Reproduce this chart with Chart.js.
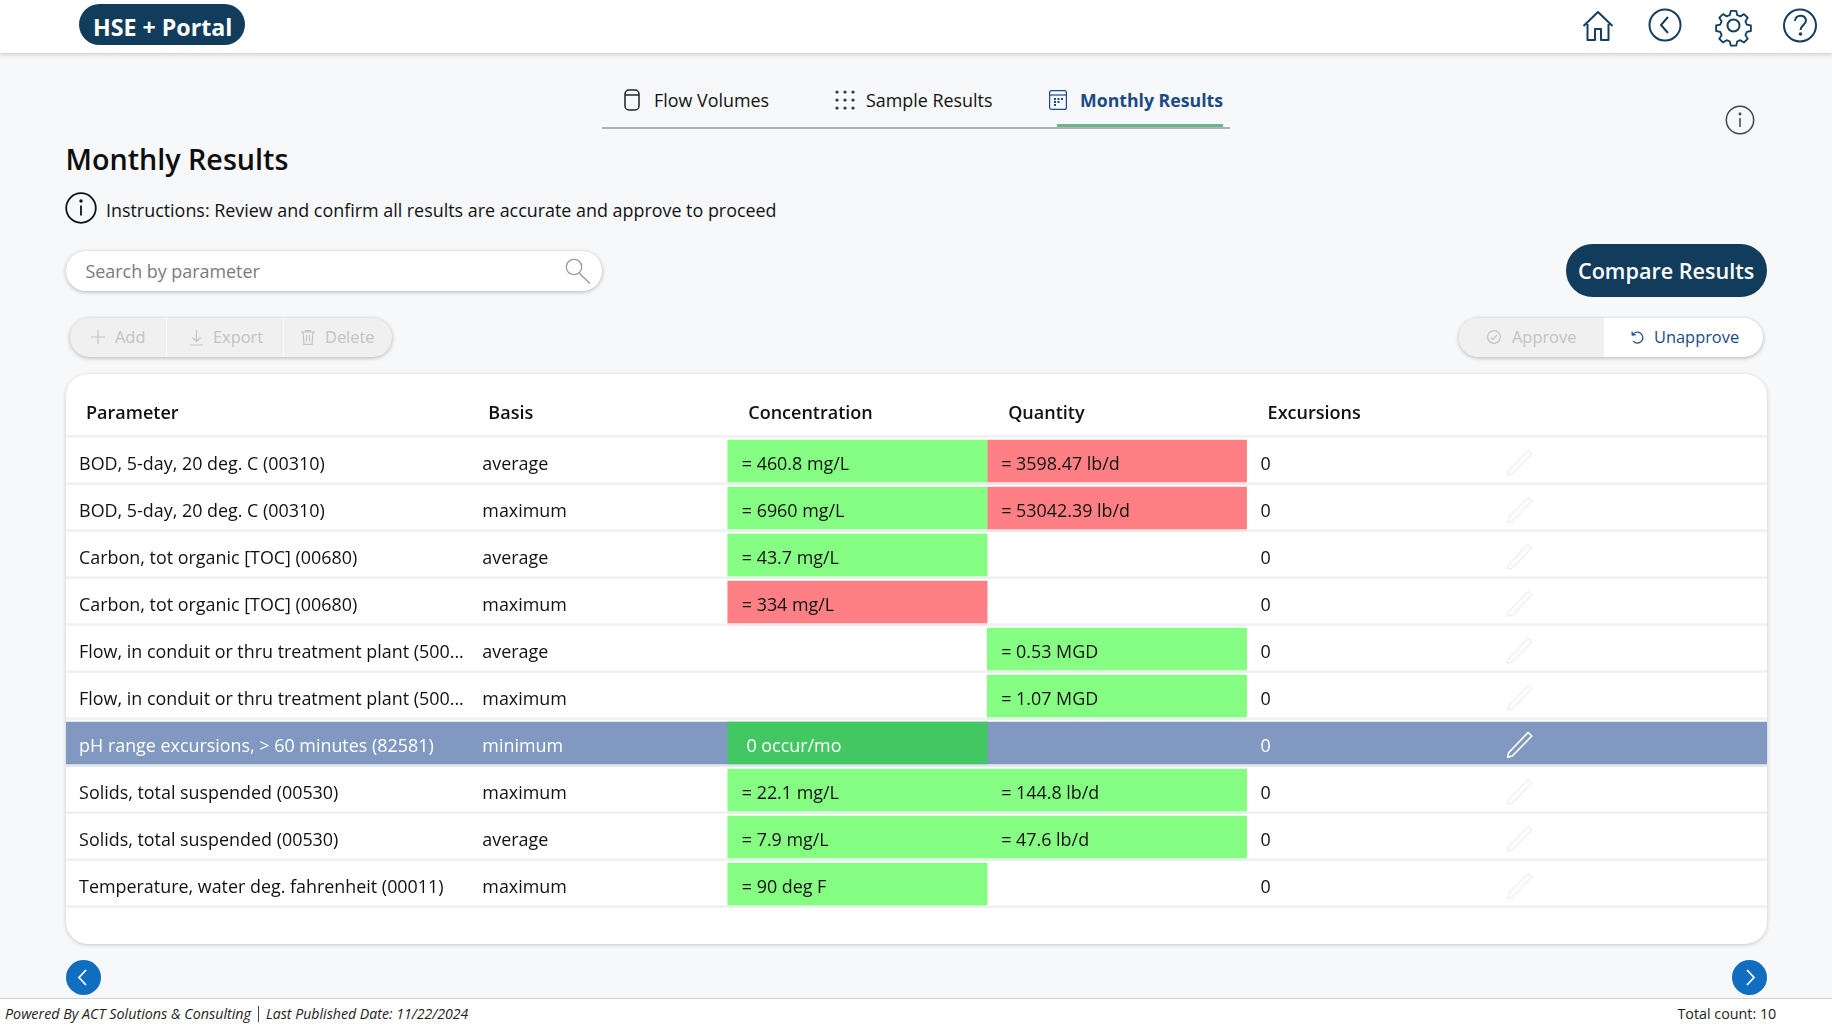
<!DOCTYPE html>
<html><head><meta charset="utf-8"><title>Monthly Results</title>
<script src="https://cdn.jsdelivr.net/npm/chart.js@4"></script>
<style>
html,body{margin:0;padding:0;width:1832px;height:1029px;overflow:hidden;background:#f7f8fa;font-family:"Open Sans",sans-serif;color:#111}
.a{position:absolute;white-space:nowrap}
.t{position:absolute;white-space:nowrap;font-size:17.9px;line-height:30px;height:30px}
.s{font-size:16.4px}
svg{position:absolute;overflow:visible}
#top{position:absolute;left:0;top:0;width:1832px;height:53px;background:#fff;box-shadow:0 1px 5px rgba(0,0,0,.22)}
#foot{position:absolute;left:0;top:998px;width:1832px;height:31px;background:#fff;border-top:1px solid #cfd0d2;box-sizing:border-box}
#card{position:absolute;left:66px;top:374px;width:1701px;height:570px;background:#fff;border-radius:22px;box-shadow:0 1px 4px rgba(0,0,0,.2)}
#tbl{position:absolute;left:66px;top:374px;width:1701px;height:570px}
.pill{position:absolute;border-radius:20px;box-shadow:0 1px 4px rgba(0,0,0,.28)}
.g{color:#c3c3c3}
</style></head><body>
<div id="top"></div>
<div class="a" style="left:79px;top:4px;width:166px;height:41px;border-radius:21px;background:#123c5b"></div>
<div class="t" style="left:93px;top:12px;font-size:23.2px;font-weight:700;color:#fff">HSE + Portal</div>

<svg style="left:1582px;top:10px" width="32" height="32" viewBox="0 0 32 32" fill="none" stroke="#143f60" stroke-width="2"><path d="M1.500 16 16 2l14.500 14M5.500 14v16h7.500V19h6v11h7.500V14" stroke-linejoin="round"/></svg>
<svg style="left:1649px;top:9px" width="32" height="32" viewBox="0 0 32 32" fill="none" stroke="#143f60" stroke-width="2"><circle cx="16" cy="16" r="15.500"/><path d="M19 8l-7 8 7 8"/></svg>
<svg style="left:1716px;top:8px" width="35" height="35" viewBox="0 0 35 35" fill="none" stroke="#143f60" stroke-width="2"><circle cx="17.500" cy="17.500" r="6"/><path d="M14.500 1.500h6l1 4.500 3.500 1.500 4-2.500 4 4-2.500 4 1.500 3.500 4.500 1v6l-4.500 1-1.500 3.500 2.500 4-4 4-4-2.500-3.500 1.500-1 4.500h-6l-1-4.500-3.500-1.500-4 2.500-4-4 2.500-4-1.500-3.500-4.500-1v-6l4.500-1 1.500-3.500-2.500-4 4-4 4 2.500 3.500-1.500z" transform="translate(1.500 1.500) scale(.915)" stroke-linejoin="round"/></svg>
<svg style="left:1783px;top:8px" width="34" height="35" viewBox="0 0 34 35" fill="none" stroke="#143f60" stroke-width="2"><circle cx="17" cy="17.500" r="16"/><path d="M12 13c0-7 11-7 11-.5 0 4-5.500 5-5.500 9.500"/><circle cx="17.500" cy="26" r=".8" fill="#143f60"/></svg>

<div class="a" style="left:602px;top:126.500px;width:628px;height:2px;background:#b0b1b3"></div>
<div class="a" style="left:1057px;top:124px;width:166px;height:3px;background:#6cb58a"></div>
<svg style="left:623px;top:89px" width="18" height="22" viewBox="0 0 18 22" fill="none" stroke="#222" stroke-width="1.500"><rect x="2" y="1" width="14" height="20" rx="4"/><path d="M2 6h14"/></svg>
<div class="t" style="left:654px;top:85px">Flow Volumes</div>
<svg style="left:834px;top:90px" width="22" height="20" viewBox="0 0 22 20" fill="#333" stroke="none"><circle cx="3" cy="2" r="1.600"/><circle cx="11" cy="2" r="1.600"/><circle cx="19" cy="2" r="1.600"/><circle cx="3" cy="10" r="1.600"/><circle cx="11" cy="10" r="1.600"/><circle cx="19" cy="10" r="1.600"/><circle cx="3" cy="18" r="1.600"/><circle cx="11" cy="18" r="1.600"/><circle cx="19" cy="18" r="1.600"/></svg>
<div class="t" style="left:866px;top:85px">Sample Results</div>
<svg style="left:1049px;top:90px" width="18" height="20" viewBox="0 0 18 20" fill="none" stroke="#1b4a85" stroke-width="1.200"><rect x=".6" y=".6" width="16.800" height="18.800" rx="2"/><path d="M.6 5h16.800"/><path d="M5 9h2M8.500 9h2M12 9h2M5 12h2M8.500 12h2M5 15h2" stroke-width="1.800"/></svg>
<div class="t" style="left:1080px;top:85px;font-size:17.7px;font-weight:700;color:#1b4a85">Monthly Results</div>
<svg style="left:1725px;top:105px" width="30" height="30" viewBox="0 0 30 30" fill="none" stroke="#444" stroke-width="1.500"><circle cx="15" cy="15" r="13.700"/><path d="M15 13v9" /><circle cx="15" cy="9" r=".7"/></svg>

<div class="t" style="left:65.500px;top:144px;font-size:28.7px;font-weight:600;color:#0e0e0e">Monthly Results</div>
<svg style="left:65px;top:192px" width="32" height="32" viewBox="0 0 32 32" fill="none" stroke="#111" stroke-width="1.800"><circle cx="16" cy="16" r="14.800"/><path d="M16 13.500v10"/><circle cx="16" cy="9" r=".8"/></svg>
<div class="t" style="left:106px;top:195px">Instructions: Review and confirm all results are accurate and approve to proceed</div>

<div class="pill" style="left:66px;top:251px;width:536px;height:40px;background:#fff"></div>
<div class="t" style="left:85.500px;top:256px;color:#7b7b7b">Search by parameter</div>
<svg style="left:565px;top:258px" width="27" height="26" viewBox="0 0 27 26" fill="none" stroke="#9a9a9a" stroke-width="1.300"><circle cx="9" cy="9" r="7.700"/><path d="M14 15l11 10.500"/></svg>

<div class="pill" style="left:70px;top:318px;width:322px;height:39px;background:#f0f0f0"></div>
<div class="a" style="left:166px;top:318px;width:1px;height:39px;background:#fafafa"></div>
<div class="a" style="left:283px;top:318px;width:1px;height:39px;background:#fafafa"></div>
<svg style="left:91px;top:330px" width="14" height="14" viewBox="0 0 14 14" fill="none" stroke="#c3c3c3" stroke-width="1.200"><path d="M7 0v14M0 7h14"/></svg>
<div class="t g s" style="left:115px;top:322px">Add</div>
<svg style="left:190px;top:330px" width="13" height="16" viewBox="0 0 13 16" fill="none" stroke="#c3c3c3" stroke-width="1.200"><path d="M6.500 0v11M2.500 7.500l4 4 4-4M0 15h13"/></svg>
<div class="t g s" style="left:213px;top:322px">Export</div>
<svg style="left:301px;top:330px" width="14" height="15" viewBox="0 0 14 15" fill="none" stroke="#c3c3c3" stroke-width="1.200"><path d="M0 2h14M4.500 2V.6h5V2M2 2l1 12.400h8L12 2M5.500 5v6.500M8.500 5v6.500"/></svg>
<div class="t g s" style="left:325px;top:322px">Delete</div>

<div class="a" style="left:1565.500px;top:244px;width:201px;height:53px;border-radius:27px;background:#123c5b"></div>
<div class="t" style="left:1578px;top:256px;font-size:21.6px;font-weight:600;color:#fff">Compare Results</div>

<div class="pill" style="left:1459px;top:318px;width:304px;height:39px;background:#fff"></div>
<div class="a" style="left:1459px;top:318px;width:145px;height:39px;background:#f0f0f0;border-radius:20px 0 0 20px"></div>
<svg style="left:1487px;top:330px" width="14" height="14" viewBox="0 0 14 14" fill="none" stroke="#c3c3c3" stroke-width="1.200"><circle cx="7" cy="7" r="6.400"/><path d="M4 7.500l2 2 4-4.500"/></svg>
<div class="t g s" style="left:1512px;top:322px">Approve</div>
<svg style="left:1630px;top:330px" width="14" height="14" viewBox="0 0 14 14" fill="none" stroke="#1b4a85" stroke-width="1.200"><path d="M2 1.500l.3 3.500 3.500-.3M2.500 5A5.500 5.500 0 1 1 3 11"/></svg>
<div class="t s" style="left:1654px;top:322px;color:#1b4a85">Unapprove</div>

<div id="card"></div>
<canvas id="tbl" width="1701" height="570"></canvas>

<svg style="left:65.500px;top:960px" width="35" height="35" viewBox="0 0 35 35" fill="none"><circle cx="17.500" cy="17.500" r="17.500" fill="#106dbf"/><path d="M20 10l-7 7.500 7 7.500" stroke="#fff" stroke-width="1.800"/></svg>
<svg style="left:1732px;top:960px" width="35" height="35" viewBox="0 0 35 35" fill="none"><circle cx="17.500" cy="17.500" r="17.500" fill="#106dbf"/><path d="M15 10l7 7.500-7 7.500" stroke="#fff" stroke-width="1.800"/></svg>

<div id="foot"></div>
<div class="t" style="left:5px;top:999px;font-size:14.3px;font-style:italic;color:#222">Powered By ACT Solutions &amp; Consulting</div>
<div class="a" style="left:258px;top:1006px;width:1px;height:16px;background:#444"></div>
<div class="t" style="left:266px;top:999px;font-size:14.15px;font-style:italic;color:#222">Last Published Date: 11/22/2024</div>
<div class="t" style="left:1677.500px;top:999px;font-size:14.3px;color:#222">Total count: 10</div>

<script>
const columnHeaders = ["Parameter","Basis","Concentration","Quantity","Excursions"];
const parameters = ["BOD, 5-day, 20 deg. C (00310)","BOD, 5-day, 20 deg. C (00310)","Carbon, tot organic [TOC] (00680)","Carbon, tot organic [TOC] (00680)","Flow, in conduit or thru treatment plant (500...","Flow, in conduit or thru treatment plant (500...","pH range excursions, > 60 minutes (82581)","Solids, total suspended (00530)","Solids, total suspended (00530)","Temperature, water deg. fahrenheit (00011)"];
const bases = ["average","maximum","average","maximum","average","maximum","minimum","maximum","average","maximum"];
const concentrationValues = [460.8,6960,43.7,334,null,null,0,22.1,7.9,90];
const concentrationUnits = ["mg/L","mg/L","mg/L","mg/L","","","occur/mo","mg/L","mg/L","deg F"];
const concentrationStatus = ["ok","ok","ok","over","","","selected","ok","ok","ok"];
const quantityValues = ["3598.47","53042.39",null,null,"0.53","1.07",null,"144.8","47.6",null];
const quantityUnits = ["lb/d","lb/d","","","MGD","MGD","","lb/d","lb/d",""];
const quantityStatus = ["over","over","","","ok","ok","","ok","ok",""];
const excursions = [0,0,0,0,0,0,0,0,0,0];
const selectedRow = 6;

const statusColours = {ok:"#86fd83",over:"#fe8085",selected:"#43c763","":"rgba(0,0,0,0)"};
const X_MIN = -2.551, X_MAX = 4.006;
const COL = {parameter:-2.551,basis:-1,concentration:0,quantity:1,excursions:2,edit:3.052};
const BODY = '17.9px "Open Sans"', HEAD = '600 18px "Open Sans"';

const tablePlugin = {
  id:"tablePlugin",
  beforeDatasetsDraw(c){
    const {ctx,scales:{x,y}} = c;
    ctx.save();
    ctx.fillStyle = "#f0f1f3";
    ctx.fillRect(x.left,435-374,x.width,2.7);
    parameters.forEach((_,i)=>{
      const py = y.getPixelForValue(i);
      ctx.globalAlpha = 1;
      ctx.fillStyle = i===selectedRow ? "#e3e7ee" : "#f0f1f3";
      ctx.fillRect(x.left,py+21.3,x.width,2.6);
      ctx.globalAlpha = 0.12;
      [[concentrationStatus[i],COL.concentration],[quantityStatus[i],COL.quantity]].forEach(([s,col])=>{
        if(s && s!=="selected"){
          ctx.fillStyle = statusColours[s];
          const a = x.getPixelForValue(col), b = x.getPixelForValue(col+1);
          ctx.fillRect(a,py+21.3,b-a,2.6);
        }
      });
    });
    ctx.restore();
  },
  afterDatasetsDraw(c){
    const {ctx,scales:{x,y}} = c;
    const head = [COL.parameter,COL.basis,COL.concentration,COL.quantity,COL.excursions];
    const headInset = [20,20,20.5,21,21];
    ctx.save();
    ctx.textBaseline = "alphabetic";
    ctx.font = HEAD; ctx.fillStyle = "#111";
    columnHeaders.forEach((h,i)=> ctx.fillText(h,x.getPixelForValue(head[i])+headInset[i],45));
    ctx.font = BODY;
    parameters.forEach((p,i)=>{
      const py = y.getPixelForValue(i)+9, sel = i===selectedRow;
      ctx.fillStyle = sel ? "#fff" : "#111";
      ctx.fillText(p,x.getPixelForValue(COL.parameter)+13.1,py);
      ctx.fillText(bases[i],x.getPixelForValue(COL.basis)+14,py);
      if(concentrationValues[i]!==null){
        const s = sel ? concentrationValues[i]+" "+concentrationUnits[i] : "= "+concentrationValues[i]+" "+concentrationUnits[i];
        ctx.fillText(s,x.getPixelForValue(COL.concentration)+(sel?18.700:14),py);
      }
      if(quantityValues[i]!==null) ctx.fillText("= "+quantityValues[i]+" "+quantityUnits[i],x.getPixelForValue(COL.quantity)+14,py);
      ctx.fillText(String(excursions[i]),x.getPixelForValue(COL.excursions)+14,py);
      // edit pencil
      ctx.save();
      ctx.translate(x.getPixelForValue(COL.edit),y.getPixelForValue(i)+2);
      ctx.rotate(Math.PI*0.245);
      ctx.strokeStyle = sel ? "#fff" : "#efefef";
      ctx.lineWidth = sel ? 1.6 : 1.3;
      ctx.beginPath();
      ctx.moveTo(-2.5,-15);ctx.lineTo(2.5,-15);ctx.lineTo(2.5,13);ctx.lineTo(0,17);ctx.lineTo(-2.5,13);ctx.closePath();
      ctx.stroke();
      ctx.restore();
    });
    ctx.restore();
  }
};

const cell = (vals,col)=> vals.map(v=> v===null ? null : [col,col+1]);

new Chart(document.getElementById("tbl"),{
  type:"bar",
  data:{
    labels:parameters,
    datasets:[
      {label:"Quantity",order:2,data:cell(quantityValues,COL.quantity),backgroundColor:quantityStatus.map(s=>statusColours[s]),barThickness:42,grouped:false},
      {label:"Concentration",order:1,data:cell(concentrationValues,COL.concentration),backgroundColor:concentrationStatus.map(s=>statusColours[s]),barThickness:42,grouped:false},
      {label:"Selected row",order:3,data:parameters.map((_,i)=> i===selectedRow ? [X_MIN,X_MAX] : null),backgroundColor:"#8198c1",barThickness:42,grouped:false}
    ]
  },
  options:{
    indexAxis:"y",responsive:false,animation:false,devicePixelRatio:1,
    layout:{padding:{top:63.5,bottom:36.5,left:0,right:0}},
    scales:{
      x:{type:"linear",min:X_MIN,max:X_MAX,display:false},
      y:{type:"category",display:false}
    },
    plugins:{legend:{display:false},tooltip:{enabled:false}}
  },
  plugins:[tablePlugin]
});
</script>
</body></html>
